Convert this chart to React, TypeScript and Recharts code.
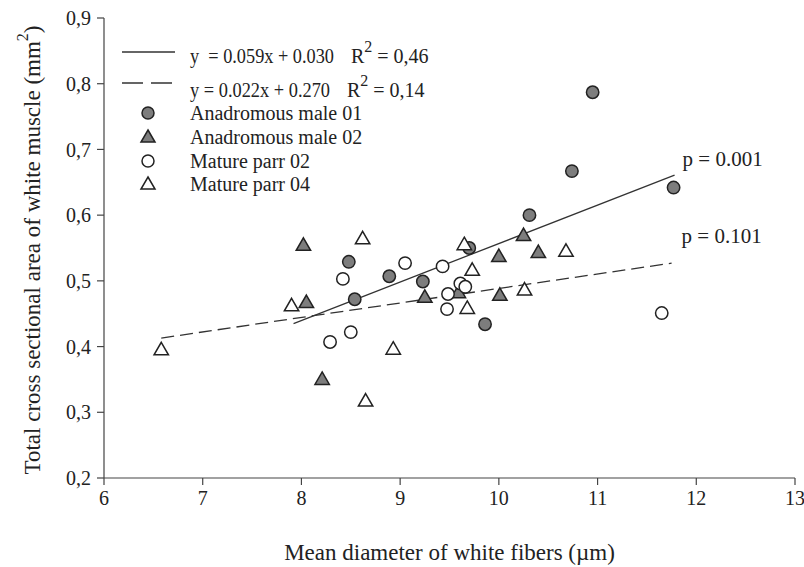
import React from "react"
import { ScatterChart, Scatter, XAxis, YAxis, ReferenceLine } from "recharts"

// axis ticks
const xTicks = [6, 7, 8, 9, 10, 11, 12, 13]
const yTicks = [0.2, 0.3, 0.4, 0.5, 0.6, 0.7, 0.8, 0.9]

// Anadromous male 01 (grey circles)
const anadromousMale01 = [
  { x: 10.95, y: 0.787 },
  { x: 10.74, y: 0.667 },
  { x: 10.31, y: 0.6 },
  { x: 11.77, y: 0.642 },
  { x: 8.48, y: 0.529 },
  { x: 8.89, y: 0.507 },
  { x: 9.23, y: 0.499 },
  { x: 8.54, y: 0.472 },
  { x: 9.7, y: 0.55 },
  { x: 9.86, y: 0.434 },
]

// Anadromous male 02 (grey triangles)
const anadromousMale02 = [
  { x: 8.02, y: 0.554 },
  { x: 8.05, y: 0.467 },
  { x: 8.21, y: 0.35 },
  { x: 9.25, y: 0.475 },
  { x: 9.59, y: 0.482 },
  { x: 10.0, y: 0.537 },
  { x: 10.01, y: 0.478 },
  { x: 10.25, y: 0.569 },
  { x: 10.4, y: 0.543 },
]

// Mature parr 02 (open circles)
const matureParr02 = [
  { x: 8.42, y: 0.503 },
  { x: 8.29, y: 0.407 },
  { x: 8.5, y: 0.422 },
  { x: 9.05, y: 0.527 },
  { x: 9.43, y: 0.522 },
  { x: 9.485, y: 0.48 },
  { x: 9.475, y: 0.457 },
  { x: 9.61, y: 0.496 },
  { x: 9.66, y: 0.491 },
  { x: 11.65, y: 0.451 },
]

// Mature parr 04 (open triangles)
const matureParr04 = [
  { x: 6.58, y: 0.395 },
  { x: 7.9, y: 0.462 },
  { x: 8.62, y: 0.564 },
  { x: 8.65, y: 0.317 },
  { x: 8.93, y: 0.396 },
  { x: 9.65, y: 0.555 },
  { x: 9.73, y: 0.516 },
  { x: 9.68, y: 0.458 },
  { x: 10.26, y: 0.486 },
  { x: 10.68, y: 0.545 },
]

// regression lines as drawn
const fitAnadromous = [
  { x: 7.92, y: 0.435 },
  { x: 11.78, y: 0.661 },
]
const fitParr = [
  { x: 6.58, y: 0.413 },
  { x: 11.75, y: 0.527 },
]

const pValues = ["p = 0.001", "p = 0.101"]
const equations = [
  ["y  = 0.059x + 0.030", "R", " = 0,46"],
  ["y = 0.022x + 0.270", "R", " = 0,14"],
]
const seriesNames = ["Anadromous male 01", "Anadromous male 02", "Mature parr 02", "Mature parr 04"]

const FONT = "'Liberation Serif', 'Times New Roman', serif"
const GREY = "#7d7d7d"
const INK = "#222"

const circle = (fill: string) => (props: any) => (
  <circle cx={props.cx} cy={props.cy} r={6.2} fill={fill} stroke={INK} strokeWidth={1.5} />
)

const triangle = (fill: string) => (props: any) => {
  const { cx, cy } = props
  return (
    <path
      d={`M${cx},${cy - 7.5} L${cx + 7.2},${cy + 5} L${cx - 7.2},${cy + 5} Z`}
      fill={fill}
      stroke={INK}
      strokeWidth={1.5}
    />
  )
}

const fmtY = (v: number) => v.toFixed(1).replace(".", ",")

const Legend = () => {
  const rows = [113, 137, 161, 184]
  const markers = [
    <circle key="a" cx={148} cy={rows[0]} r={6} fill={GREY} stroke={INK} strokeWidth={1.5} />,
    <path key="b" d={`M148,${rows[1] - 7} L155,${rows[1] + 5} L141,${rows[1] + 5} Z`} fill={GREY} stroke={INK} strokeWidth={1.5} />,
    <circle key="c" cx={148} cy={rows[2]} r={6} fill="#fff" stroke={INK} strokeWidth={1.5} />,
    <path key="d" d={`M148,${rows[3] - 7} L155,${rows[3] + 5} L141,${rows[3] + 5} Z`} fill="#fff" stroke={INK} strokeWidth={1.5} />,
  ]
  return (
    <svg width={804} height={567} style={{ position: "absolute", left: 0, top: 0, pointerEvents: "none" }}>
      <g fontFamily={FONT} fontSize={20} fill={INK}>
        <line x1={122} x2={175} y1={52} y2={52} stroke="#333" strokeWidth={1.3} />
        <text x={190} y={63} xmlSpace="preserve" textLength={144} lengthAdjust="spacingAndGlyphs">
          {equations[0][0]}
        </text>
        <text x={351} y={63}>
          {equations[0][1]}
          <tspan dy={-11} fontSize={16}>2</tspan>
          <tspan dy={11}>{equations[0][2]}</tspan>
        </text>
        <line x1={122} x2={175} y1={83} y2={83} stroke="#333" strokeWidth={1.3} strokeDasharray="21 8" />
        <text x={190} y={97} textLength={140} lengthAdjust="spacingAndGlyphs">
          {equations[1][0]}
        </text>
        <text x={347} y={97}>
          {equations[1][1]}
          <tspan dy={-11} fontSize={16}>2</tspan>
          <tspan dy={11}>{equations[1][2]}</tspan>
        </text>
        {markers}
        {seriesNames.map((n, i) => (
          <text key={n} x={190} y={rows[i] + 7}>
            {n}
          </text>
        ))}
      </g>
    </svg>
  )
}

const YTitle = (props: any) => {
  const { viewBox } = props
  const cx = viewBox.x + 2
  const cy = viewBox.y + viewBox.height / 2 + 2
  return (
    <text
      x={cx}
      y={cy}
      transform={`rotate(-90 ${cx} ${cy})`}
      textAnchor="middle"
      dominantBaseline="central"
      fontFamily={FONT}
      fontSize={23}
      fill={INK}
    >
      Total cross sectional area of white muscle (mm
      <tspan dy={-10} fontSize={16}>2</tspan>
      <tspan dy={10}>)</tspan>
    </text>
  )
}

const XTitle = (props: any) => {
  const { viewBox } = props
  return (
    <text
      x={viewBox.x + viewBox.width / 2}
      y={viewBox.y + 82}
      textAnchor="middle"
      fontFamily={FONT}
      fontSize={23}
      fill={INK}
    >
      Mean diameter of white fibers (µm)
    </text>
  )
}

const pLabel = (text: string, dx: number, dy: number) => (props: any) => {
  const { viewBox } = props
  return (
    <text x={viewBox.x + viewBox.width + dx} y={viewBox.y + dy} fontFamily={FONT} fontSize={21} fill={INK}>
      {text}
    </text>
  )
}

export default function App() {
  return (
    <div style={{ position: "absolute", left: 0, top: 0, width: 804, height: 567, background: "#fff" }}>
      <ScatterChart width={804} height={567} margin={{ top: 18, right: 9, bottom: 28, left: 30 }}>
        <XAxis
          type="number"
          dataKey="x"
          domain={[6, 13]}
          ticks={xTicks}
          interval={0}
          height={61}
          tickSize={7}
          tickMargin={6}
          stroke="#444"
          strokeWidth={1.2}
          tick={{ fontFamily: FONT, fontSize: 20, fill: INK }}
          label={{ content: XTitle }}
        />
        <YAxis
          type="number"
          dataKey="y"
          domain={[0.2, 0.9]}
          ticks={yTicks}
          interval={0}
          width={74}
          tickSize={7}
          tickMargin={6}
          stroke="#444"
          strokeWidth={1.2}
          tickFormatter={fmtY}
          tick={{ fontFamily: FONT, fontSize: 20, fill: INK }}
          label={{ content: YTitle }}
        />
        <Scatter data={anadromousMale01} shape={circle(GREY)} isAnimationActive={false} />
        <Scatter data={anadromousMale02} shape={triangle(GREY)} isAnimationActive={false} />
        <Scatter data={matureParr02} shape={circle("#fff")} isAnimationActive={false} />
        <Scatter data={matureParr04} shape={triangle("#fff")} isAnimationActive={false} />
        <ReferenceLine
          segment={fitAnadromous}
          stroke="#333"
          strokeWidth={1.3}
          ifOverflow="visible"
          label={{ content: pLabel(pValues[0], 8, -9) }}
        />
        <ReferenceLine
          segment={fitParr}
          stroke="#333"
          strokeWidth={1.3}
          strokeDasharray="13 6"
          ifOverflow="visible"
          label={{ content: pLabel(pValues[1], 10, -20) }}
        />
      </ScatterChart>
      <Legend />
    </div>
  )
}
